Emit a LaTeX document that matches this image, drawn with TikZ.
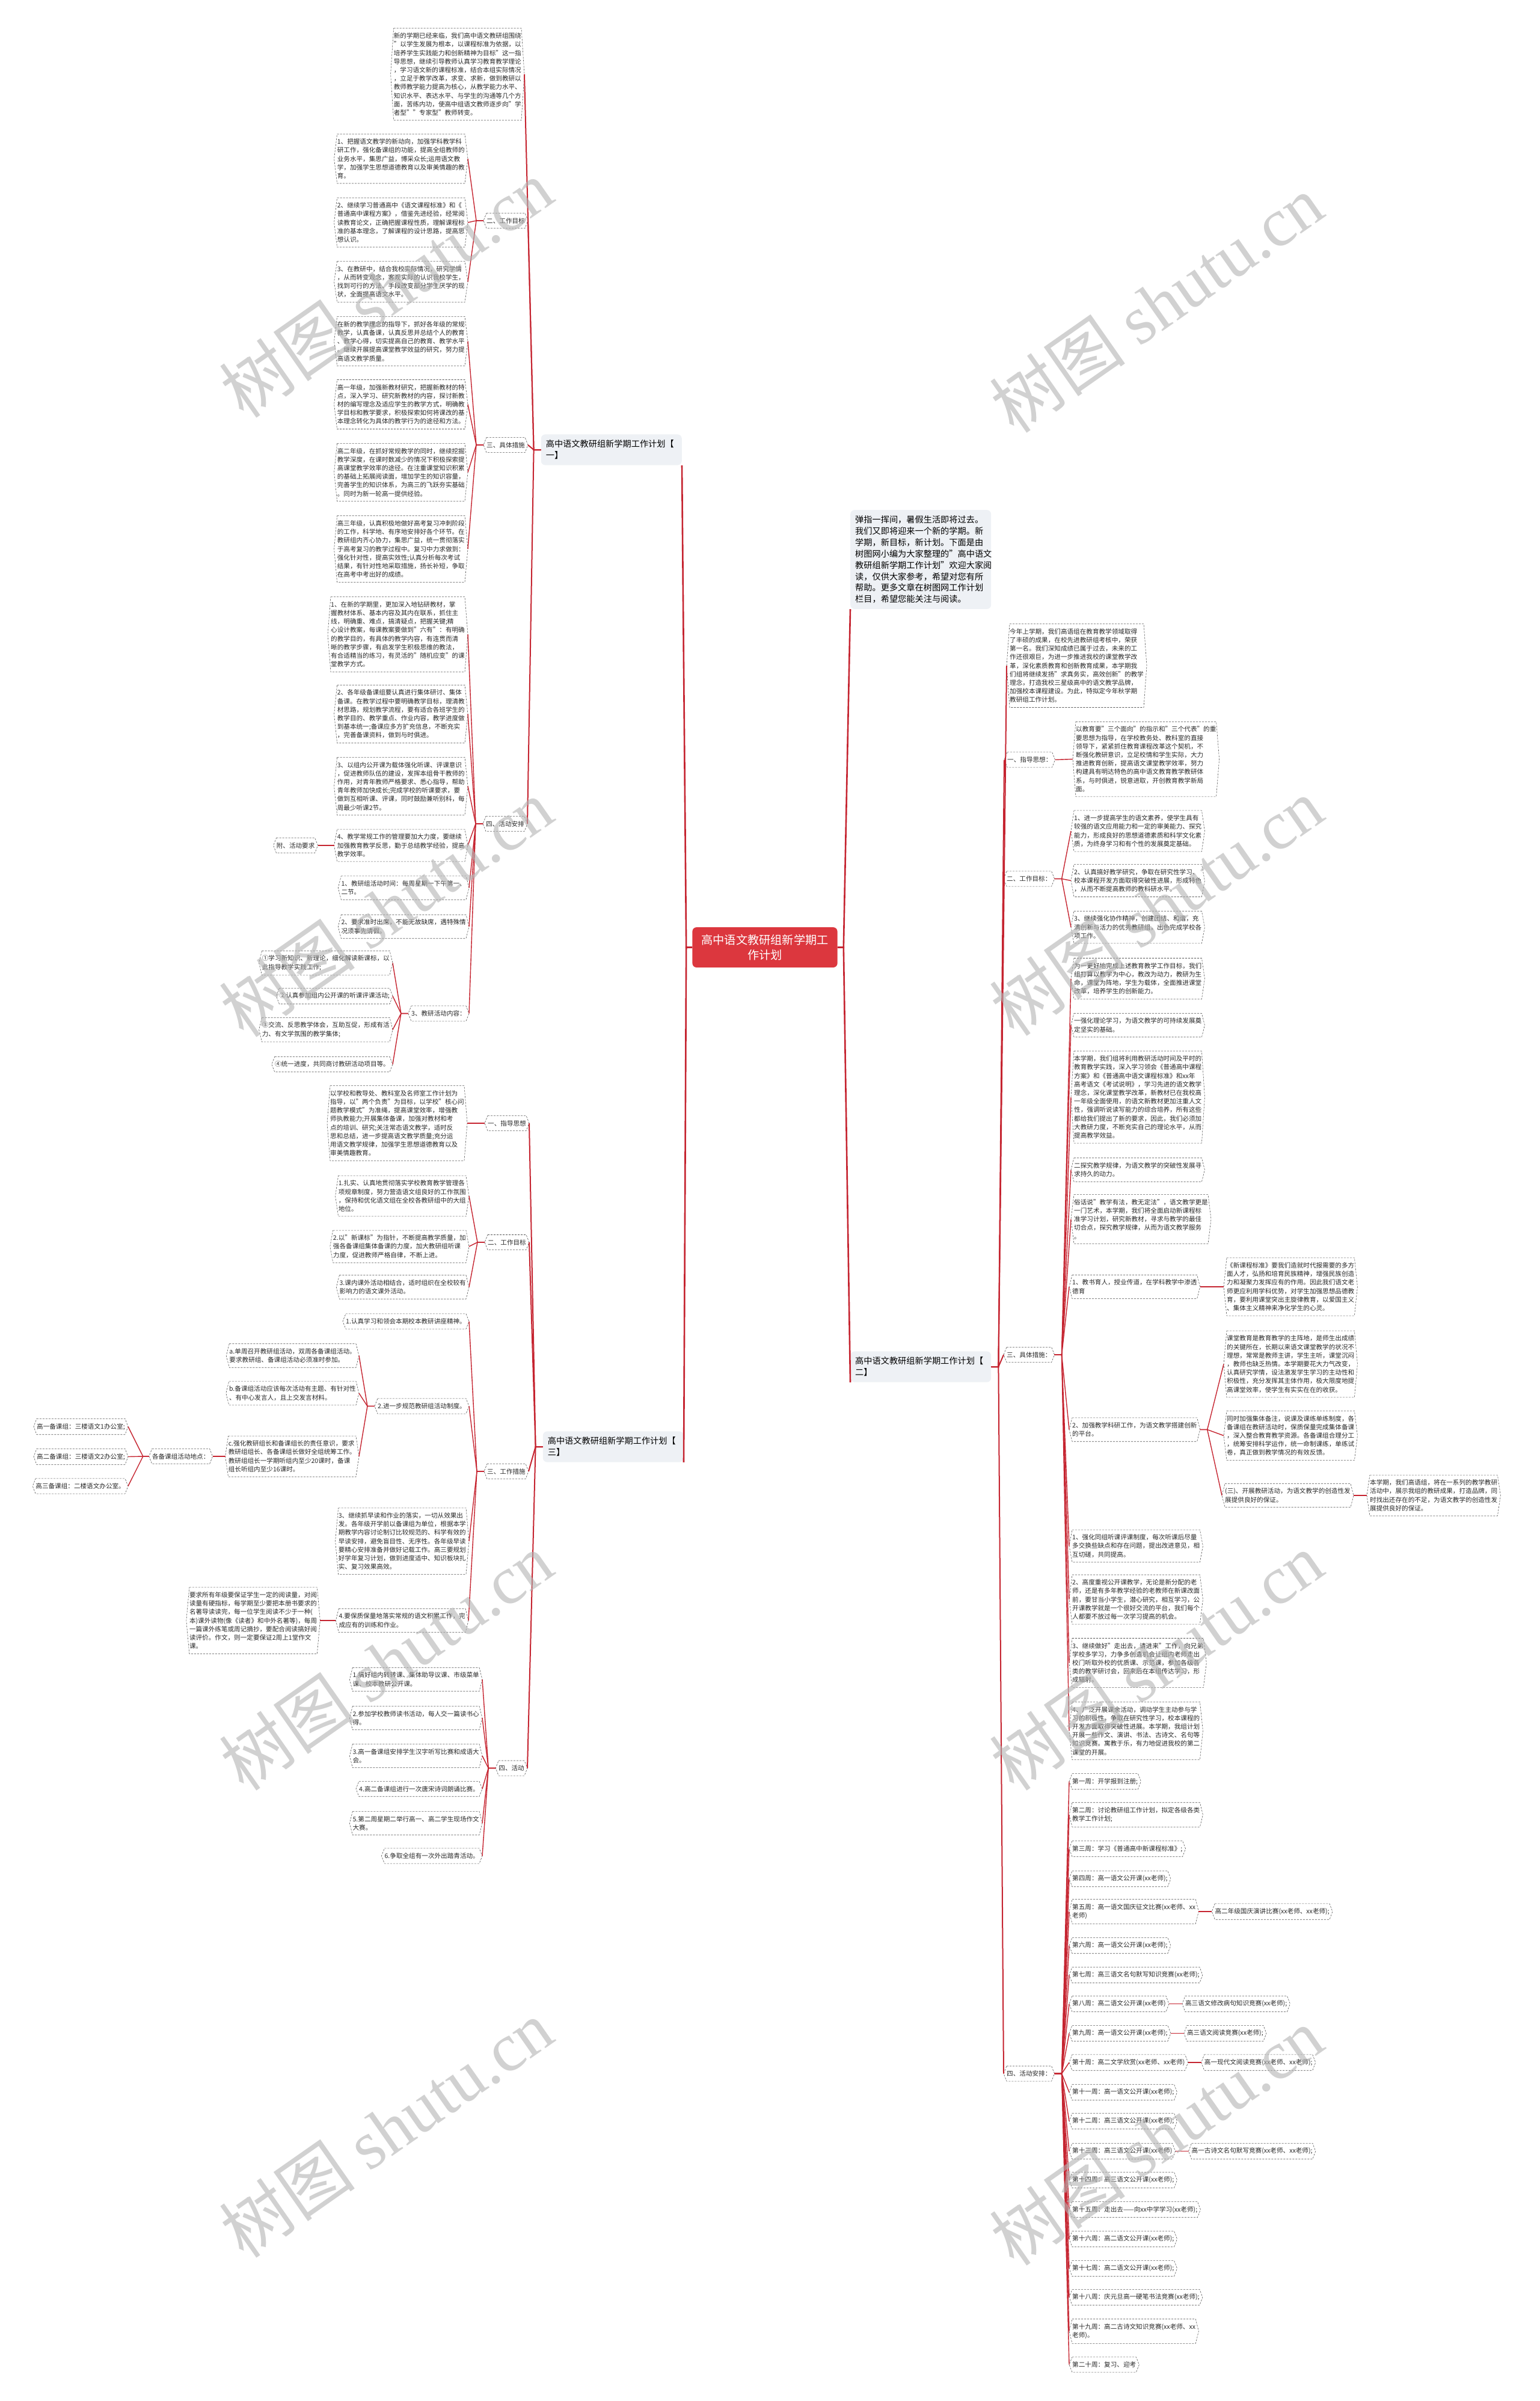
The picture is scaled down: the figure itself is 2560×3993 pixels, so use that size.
\documentclass[tikz,border=0pt]{standalone}
\usepackage{fontspec}
\setmainfont{Noto Sans CJK SC}
\newfontfamily\wmserif{Liberation Serif}
\usetikzlibrary{positioning}

\definecolor{linkred}{RGB}{197,36,48}
\definecolor{rootred}{RGB}{220,55,62}
\definecolor{titlefill}{RGB}{238,241,245}
\definecolor{leafline}{RGB}{85,85,85}
\definecolor{leaftext}{RGB}{40,40,40}

\tikzset{
  leaf/.style={anchor=east, inner xsep=5pt, inner ysep=7.5pt, align=left, text=leaftext,
    font=\fontsize{10.6}{14.2}\selectfont},
  rleaf/.style={leaf, anchor=west},
  hexline/.style={draw=leafline, densely dashed, line width=0.6pt},
  titlebox/.style={fill=titlefill, rounded corners=7pt, inner xsep=8pt, inner ysep=9.5pt,
    text width=218pt, align=left, font=\fontsize{14.2}{18.9}\selectfont},
  rootbox/.style={fill=rootred, text=white, rounded corners=7pt, inner xsep=15pt,
    inner ysep=12pt, align=center, font=\fontsize{19.2}{25}\selectfont},
  rootline/.style={draw=linkred, line width=2.6pt},
  mainline/.style={draw=linkred, line width=2pt},
  branchline/.style={draw=linkred, line width=1.4pt},
  wmark/.style={rotate=35, text=black!30, opacity=.6, font=\fontsize{114}{114}\selectfont},
}

\begin{document}
\begin{tikzpicture}[x=1pt,y=-1pt]
\useasboundingbox (0,0) rectangle (2560,3993);

% root
\node[rootbox] (root) at (1272,1575.5) {高中语文教研组新学期工\\作计划};

% ---- plan one (left, upper) ----
\node[titlebox, anchor=east] (t1) at (1134,748) {高中语文教研组新学期工作计划【\\一】};
\node[leaf] (p1) at (872,123.5) {新的学期已经来临，我们高中语文教研组围绕\\"以学生发展为根本，以课程标准为依据，以\\培养学生实践能力和创新精神为目标"这一指\\导思想，继续引导教师认真学习教育教学理论\\，学习语文新的课程标准，结合本组实际情况\\，立足于教学改革，求变、求新，做到教研以\\教师教学能力提高为核心，从教学能力水平、\\知识水平、表达水平、与学生的沟通等几个方\\面，苦练内功，使高中组语文教师逐步向"学\\者型""专家型"教师转变。};

\node[leaf] (g1lab) at (878,367) {二、工作目标};
\node[leaf] (g1a) at (778,264) {1、把握语文教学的新动向，加强学科教学科\\研工作，强化备课组的功能，提高全组教师的\\业务水平，集思广益，博采众长;运用语文教\\学，加强学生思想道德教育以及审美情趣的教\\育。};
\node[leaf] (g1b) at (778,370) {2、继续学习普通高中《语文课程标准》和《\\普通高中课程方案》，借鉴先进经验，经常阅\\读教育论文，正确把握课程性质，理解课程标\\准的基本理念，了解课程的设计思路，提高思\\想认识。};
\node[leaf] (g1c) at (778,468.5) {3、在教研中，结合我校实际情况，研究学情\\，从而转变观念，客观实际的认识我校学生，\\找到可行的方法、手段改变部分学生厌学的现\\状，全面提高语文水平。};

\node[leaf] (m1lab) at (878,740) {三、具体措施};
\node[leaf] (m1a) at (778,567.5) {在新的教学理念的指导下，抓好各年级的常规\\教学，认真备课，认真反思并总结个人的教育\\、教学心得，切实提高自己的教育、教学水平\\。继续开展提高课堂教学效益的研究，努力提\\高语文教学质量。};
\node[leaf] (m1b) at (778,672.5) {高一年级，加强新教材研究，把握新教材的特\\点，深入学习、研究新教材的内容，探讨新教\\材的编写理念及适应学生的教学方式，明确教\\学目标和教学要求，积极探索如何将课改的基\\本理念转化为具体的教学行为的途径和方法。};
\node[leaf] (m1c) at (778,785.5) {高二年级，在抓好常规教学的同时，继续挖掘\\教学深度，在课时数减少的情况下积极探索提\\高课堂教学效率的途径。在注重课堂知识积累\\的基础上拓展阅读面，增加学生的知识容量，\\完善学生的知识体系，为高三的飞跃夯实基础\\。同时为新一轮高一提供经验。};
\node[leaf] (m1d) at (778,913) {高三年级，认真积极地做好高考复习冲刺阶段\\的工作，科学地、有序地安排好各个环节。在\\教研组内齐心协力，集思广益，统一贯彻落实\\于高考复习的教学过程中。复习中力求做到：\\强化针对性，提高实效性;认真分析每次考试\\结果，有针对性地采取措施，扬长补短，争取\\在高考中考出好的成绩。};

\node[leaf] (s1lab) at (877,1370) {四、活动安排};
\node[leaf] (s1a) at (778,1055) {1、在新的学期里，更加深入地钻研教材，掌\\握教材体系、基本内容及其内在联系，抓住主\\线，明确重、难点，搞清疑点，把握关键;精\\心设计教案，每课教案要做到"六有"：有明确\\的教学目的，有具体的教学内容，有连贯而清\\晰的教学步骤，有启发学生积极思维的教法，\\有合适精当的练习，有灵活的"随机应变"的课\\堂教学方式。};
\node[leaf] (s1b) at (778,1187.5) {2、各年级备课组要认真进行集体研讨、集体\\备课。在教学过程中要明确教学目标，理清教\\材思路，规划教学流程，要有适合各班学生的\\教学目的、教学重点、作业内容，教学进度做\\到基本统一;备课应多方扩充信息，不断充实\\，完善备课资料，做到与时俱进。};
\node[leaf] (s1c) at (778,1307.5) {3、以组内公开课为载体强化听课、评课意识\\，促进教师队伍的建设，发挥本组骨干教师的\\作用，对青年教师严格要求、悉心指导，帮助\\青年教师加快成长;完成学校的听课要求，要\\做到互相听课、评课，同时鼓励兼听别科，每\\周最少听课2节。};
\node[leaf] (s1d) at (778,1406) {4、教学常规工作的管理要加大力度，要继续\\加强教育教学反思，勤于总结教学经验，提高\\教学效率。};
\node[leaf, left=27pt of s1d] (s1req) {附、活动要求};
\node[leaf] (s1e) at (780,1476.5) {1、教研组活动时间：每周星期一下午第一、\\二节。};
\node[leaf] (s1f) at (780,1541) {2、要求准时出席，不能无故缺席，遇特殊情\\况须事先请假。};
\node[leaf] (s1con) at (780,1685.5) {3、教研活动内容：};
\node[leaf] (s1con1) at (653,1601.5) {①学习新知识、新理论，细化解读新课标，以\\此指导教学实践工作;};
\node[leaf] (s1con2) at (653,1656.5) {②认真参加组内公开课的听课评课活动;};
\node[leaf] (s1con3) at (653,1712.5) {③交流、反思教学体会，互助互促，形成有活\\力、有文学氛围的教学集体;};
\node[leaf] (s1con4) at (653,1770) {④统一进度，共同商讨教研活动项目等。};

% ---- plan three (left, lower) ----
\node[titlebox, anchor=east] (t3) at (1137,2406) {高中语文教研组新学期工作计划【\\三】};
\node[leaf] (d3lab) at (880,1868) {一、指导思想};
\node[leaf] (d3a) at (777,1868) {以学校和教导处、教科室及名师室工作计划为\\指导，以"两个负责"为目标，以学校"核心问\\题教学模式"为准绳，提高课堂效率，增强教\\师执教能力;开展集体备课，加强对教材和考\\点的培训、研究;关注常态语文教学，适时反\\思和总结，进一步提高语文教学质量;充分运\\用语文教学规律，加强学生思想道德教育以及\\审美情趣教育。};

\node[leaf] (g3lab) at (880,2066) {二、工作目标};
\node[leaf] (g3a) at (780,1989) {1.扎实、认真地贯彻落实学校教育教学管理各\\项规章制度，努力营造语文组良好的工作氛围\\，保持和优化语文组在全校各教研组中的大组\\地位。};
\node[leaf] (g3b) at (780,2073) {2.以"新课标"为指针，不断提高教学质量，加\\强各备课组集体备课的力度，加大教研组听课\\力度，促进教师严格自律，不断上进。};
\node[leaf] (g3c) at (780,2140.5) {3.课内课外活动相结合，适时组织在全校较有\\影响力的语文课外活动。};

\node[leaf] (m3lab) at (879,2447) {三、工作措施};
\node[leaf] (m3a) at (780,2197.5) {1.认真学习和领会本期校本教研讲座精神。};
\node[leaf] (m3b) at (780,2338.5) {2.进一步规范教研组活动制度。};
\node[leaf] (m3b1) at (597,2254.5) {a.单周召开教研组活动，双周各备课组活动。\\要求教研组、备课组活动必须准时参加。};
\node[leaf] (m3b2) at (597,2317) {b.备课组活动应该每次活动有主题、有针对性\\、有中心发言人，且上交发言材料。};
\node[leaf] (m3b3) at (597,2422) {c.强化教研组长和备课组长的责任意识，要求\\教研组组长、各备课组长做好全组统筹工作。\\教研组组长一学期听组内至少20课时，备课\\组长听组内至少16课时。};
\node[leaf, left=21pt of m3b3] (m3place) {各备课组活动地点：};
\node[leaf] (m3place1) at (213,2372.5) {高一备课组：三楼语文1办公室;};
\node[leaf] (m3place2) at (213,2422.5) {高二备课组：三楼语文2办公室;};
\node[leaf] (m3place3) at (213,2471.5) {高三备课组：二楼语文办公室。};
\node[leaf] (m3c) at (780,2563) {3、继续抓早读和作业的落实，一切从效果出\\发。各年级开学前以备课组为单位，根据本学\\期教学内容讨论制订比较规范的、科学有效的\\早读安排，避免盲目性、无序性。各年级早读\\要精心安排准备并做好记载工作。高三要规划\\好学年复习计划，做到进度适中、知识板块扎\\实、复习效果高效。};
\node[leaf] (m3d) at (779,2695) {4.要保质保量地落实常规的语文积累工作，完\\成应有的训练和作业。};
\node[leaf, left=26pt of m3d] (m3d1) {要求所有年级要保证学生一定的阅读量，对阅\\读量有硬指标，每学期至少要把本册书要求的\\名著导读读完，每一位学生阅读不少于一种(\\本)课外读物(像《读者》和中外名著等)，每周\\一篇课外练笔或周记摘抄，要配合阅读搞好阅\\读评价。作文，则一定要保证2周上1堂作文\\课。};

\node[leaf] (v3lab) at (877,2940.5) {四、活动};
\node[leaf] (v3a) at (802,2793) {1.搞好组内转转课、集体助导议课、市级菜单\\课、校本教研公开课。};
\node[leaf] (v3b) at (802,2857) {2.参加学校教师读书活动，每人交一篇读书心\\得。};
\node[leaf] (v3c) at (802,2920) {3.高一备课组安排学生汉字听写比赛和成语大\\会。};
\node[leaf] (v3d) at (802,2975) {4.高二备课组进行一次唐宋诗词朗诵比赛。};
\node[leaf] (v3e) at (802,3032) {5.第二周星期二举行高一、高二学生现场作文\\大赛。};
\node[leaf] (v3f) at (802,3086.5) {6.争取全组有一次外出踏青活动。};

% ---- right side: intro and plan two ----
\node[titlebox, anchor=west] (p2) at (1414,930.5) {弹指一挥间，暑假生活即将过去。\\我们又即将迎来一个新的学期。新\\学期，新目标，新计划。下面是由\\树图网小编为大家整理的"高中语文\\教研组新学期工作计划"欢迎大家阅\\读，仅供大家参考，希望对您有所\\帮助。更多文章在树图网工作计划\\栏目，希望您能关注与阅读。};
\node[titlebox, anchor=west] (t2) at (1414,2273) {高中语文教研组新学期工作计划【\\二】};

\node[rleaf] (q2) at (1674,1107) {今年上学期，我们高语组在教育教学领域取得\\了丰硕的成果，在校先进教研组考核中，荣获\\第一名。我们深知成绩已属于过去，未来的工\\作还很艰巨，为进一步推进我校的课堂教学改\\革，深化素质教育和创新教育成果，本学期我\\们组将继续发扬"求真务实，高效创新"的教学\\理念，打造我校三星级高中的语文教学品牌，\\加强校本课程建设。为此，特拟定今年秋学期\\教研组工作计划。};

\node[rleaf] (d2lab) at (1670,1263.5) {一、指导思想：};
\node[rleaf] (d2a) at (1784,1262.5) {以教育要"三个面向"的指示和"三个代表"的重\\要思想为指导，在学校教务处、教科室的直接\\领导下，紧紧抓住教育课程改革这个契机，不\\断强化教研意识，立足校情和学生实际，大力\\推进教育创新，提高语文课堂教学效率，努力\\构建具有明达特色的高中语文教育教学教研体\\系，与时俱进，锐意进取，开创教育教学新局\\面。};

\node[rleaf] (g2lab) at (1669,1461.5) {二、工作目标：};
\node[rleaf] (g2a) at (1781,1382) {1、进一步提高学生的语文素养，使学生具有\\较强的语文应用能力和一定的审美能力、探究\\能力，形成良好的思想道德素质和科学文化素\\质，为终身学习和有个性的发展奠定基础。};
\node[rleaf] (g2b) at (1781,1464.5) {2、认真搞好教学研究，争取在研究性学习、\\校本课程开发方面取得突破性进展，形成特色\\，从而不断提高教师的教科研水平。};
\node[rleaf] (g2c) at (1781,1542) {3、继续强化协作精神，创建团结、和谐，充\\满创新与活力的优秀教研组，出色完成学校各\\项工作。};

\node[rleaf] (m2lab) at (1669,2253) {三、具体措施：};
\node[rleaf] (m2a) at (1781,1627.5) {为一更好地完成上述教育教学工作目标，我们\\组打算以教学为中心，教改为动力，教研为生\\命，课堂为阵地，学生为载体，全面推进课堂\\改革，培养学生的创新能力。};
\node[rleaf] (m2b) at (1781,1705) {一强化理论学习，为语文教学的可持续发展奠\\定坚实的基础。};
\node[rleaf] (m2c) at (1781,1824.5) {本学期，我们组将利用教研活动时间及平时的\\教育教学实践，深入学习领会《普通高中课程\\方案》和《普通高中语文课程标准》和xx年\\高考语文《考试说明》，学习先进的语文教学\\理念，深化课堂教学改革，新教材已在我校高\\一年级全面使用，的语文新教材更加注重人文\\性，强调听说读写能力的综合培养，所有这些\\都给我们提出了新的要求，因此，我们必须加\\大教研力度，不断充实自己的理论水平，从而\\提高教学效益。};
\node[rleaf] (m2d) at (1781,1945.5) {二探究教学规律，为语文教学的突破性发展寻\\求持久的动力。};
\node[rleaf] (m2e) at (1781,2027.5) {俗话说"教学有法，教无定法"，语文教学更是\\一门艺术，本学期，我们将全面启动新课程标\\准学习计划，研究新教材，寻求与教学的最佳\\切合点，探究教学规律，从而为语文教学服务\\。};
\node[rleaf] (m2f) at (1778,2140) {1、教书育人，授业传道，在学科教学中渗透\\德育};
\node[rleaf] (m2f1) at (2035,2140) {《新课程标准》要我们造就时代报需要的多方\\面人才，弘扬和培育民族精神，增强民族创造\\力和凝聚力发挥应有的作用。因此我们语文老\\师更应利用学科优势，对学生加强思想品德教\\育，要利用课堂突出主旋律教育，以爱国主义\\、集体主义精神来净化学生的心灵。};
\node[rleaf] (m2g) at (1778,2377.5) {2、加强教学科研工作，为语文教学搭建创新\\的平台。};
\node[rleaf] (m2g1) at (2035,2268.5) {课堂教育是教育教学的主阵地，是师生出成绩\\的关键所在，长期以来语文课堂教学的状况不\\理想，常常是教师主讲，学生主听，课堂沉闷\\，教师也缺乏热情。本学期要花大力气改变，\\认真研究学情，设法激发学生学习的主动性和\\积极性，充分发挥其主体作用，极大限度地提\\高课堂效率，使学生有实实在在的收获。};
\node[rleaf] (m2g2) at (2035,2387.5) {同时加强集体备注，说课及课练单练制度，各\\备课组在教研活动时，保质保量完成集体备课\\，深入整合教育教学资源。各备课组合理分工\\，统筹安排科学运作，统一命制课练，单练试\\卷，真正做到教学情况的有效反馈。};
\node[rleaf] (m2g3) at (2032,2487) {(三)、开展教研活动，为语文教学的创造性发\\展提供良好的保证。};
\node[rleaf, right=22pt of m2g3] (m2g3a) {本学期，我们高语组，将在一系列的教学教研\\活动中，展示我组的教研成果，打造品牌，同\\时找出还存在的不足，为语文教学的创造性发\\展提供良好的保证。};
\node[rleaf] (m2h) at (1778,2571) {1、强化同组听课评课制度，每次听课后尽量\\多交换些缺点和存在问题，提出改进意见，相\\互切磋，共同提高。};
\node[rleaf] (m2i) at (1778,2660) {2、高度重视公开课教学，无论是新分配的老\\师，还是有多年教学经验的老教师在新课改面\\前，要甘当小学生，潜心研究，相互学习，公\\开课教学就是一个很好交流的平台，我们每个\\人都要不放过每一次学习提高的机会。};
\node[rleaf] (m2j) at (1778,2765.5) {3、继续做好"走出去，请进来"工作，向兄弟\\学校多学习，力争多创造机会让组内老师走出\\校门听取外校的优质课、示范课，参加各级各\\类的教学研讨会，回来后在本组传达学习，形\\成辐射。};
\node[rleaf] (m2k) at (1778,2878.5) {4、广泛开展课余活动，调动学生主动参与学\\习的积极性，争取在研究性学习，校本课程的\\开发方面取得突破性进展。本学期，我组计划\\开展一些作文、演讲、书法、古诗文、名句等\\知识竞赛。寓教于乐，有力地促进我校的第二\\课堂的开展。};

\node[rleaf] (w2lab) at (1669,3448.5) {四、活动安排：};
\node[rleaf] (wk1) at (1778,2962.5) {第一周：开学报到注册;};
\node[rleaf] (wk2) at (1778,3018) {第二周：讨论教研组工作计划，拟定各级各类\\教学工作计划;};
\node[rleaf] (wk3) at (1778,3074.5) {第三周：学习《普通高中新课程标准》;};
\node[rleaf] (wk4) at (1778,3124.5) {第四周：高一语文公开课(xx老师);};
\node[rleaf] (wk5) at (1778,3179) {第五周：高一语文国庆征文比赛(xx老师、xx\\老师)};
\node[rleaf, right=22pt of wk5] (wk5x) {高二年级国庆演讲比赛(xx老师、xx老师);};
\node[rleaf] (wk6) at (1778,3235.5) {第六周：高一语文公开课(xx老师);};
\node[rleaf] (wk7) at (1778,3284.5) {第七周：高三语文名句默写知识竞赛(xx老师);};
\node[rleaf] (wk8) at (1778,3332.5) {第八周：高二语文公开课(xx老师)};
\node[rleaf, right=22pt of wk8] (wk8x) {高三语文修改病句知识竞赛(xx老师);};
\node[rleaf] (wk9) at (1778,3381.5) {第九周：高一语文公开课(xx老师);};
\node[rleaf, right=22pt of wk9] (wk9x) {高三语文阅读竞赛(xx老师);};
\node[rleaf] (wk10) at (1778,3430) {第十周：高二文学欣赏(xx老师、xx老师)};
\node[rleaf, right=22pt of wk10] (wk10x) {高一现代文阅读竞赛(xx老师、xx老师);};
\node[rleaf] (wk11) at (1778,3479.5) {第十一周：高一语文公开课(xx老师);};
\node[rleaf] (wk12) at (1778,3527.5) {第十二周：高三语文公开课(xx老师);};
\node[rleaf] (wk13) at (1778,3577.5) {第十三周：高三语文公开课(xx老师)};
\node[rleaf, right=22pt of wk13] (wk13x) {高一古诗文名句默写竞赛(xx老师、xx老师);};
\node[rleaf] (wk14) at (1778,3625.5) {第十四周：高三语文公开课(xx老师);};
\node[rleaf] (wk15) at (1778,3674.5) {第十五周：走出去——向xx中学学习(xx老师);};
\node[rleaf] (wk16) at (1778,3723.5) {第十六周：高二语文公开课(xx老师);};
\node[rleaf] (wk17) at (1778,3772.5) {第十七周：高二语文公开课(xx老师);};
\node[rleaf] (wk18) at (1778,3820.5) {第十八周：庆元旦高一硬笔书法竞赛(xx老师);};
\node[rleaf] (wk19) at (1778,3877) {第十九周：高二古诗文知识竞赛(xx老师、xx\\老师)。};
\node[rleaf] (wk20) at (1778,3932.5) {第二十周：复习、迎考};

% dashed hexagon outlines
\foreach \n in {p1,g1lab,g1a,g1b,g1c,m1lab,m1a,m1b,m1c,m1d,s1lab,s1a,s1b,s1c,s1d,s1req,s1e,s1f,
    s1con,s1con1,s1con2,s1con3,s1con4,d3lab,d3a,g3lab,g3a,g3b,g3c,m3lab,m3a,m3b,m3b1,m3b2,m3b3,
    m3place,m3place1,m3place2,m3place3,m3c,m3d,m3d1,v3lab,v3a,v3b,v3c,v3d,v3e,v3f,
    q2,d2lab,d2a,g2lab,g2a,g2b,g2c,m2lab,m2a,m2b,m2c,m2d,m2e,m2f,m2f1,m2g,m2g1,m2g2,m2g3,m2g3a,
    m2h,m2i,m2j,m2k,w2lab,wk1,wk2,wk3,wk4,wk5,wk5x,wk6,wk7,wk8,wk8x,wk9,wk9x,wk10,wk10x,
    wk11,wk12,wk13,wk13x,wk14,wk15,wk16,wk17,wk18,wk19,wk20}
  \draw[hexline] ([xshift=5pt]\n.north west) -- ([xshift=-5pt]\n.north east) -- (\n.east)
    -- ([xshift=-5pt]\n.south east) -- ([xshift=5pt]\n.south west) -- (\n.west) -- cycle;

% connectors from the root
\draw[rootline] (root.west) -- ++(-10,0) -- (t1.south east);
\draw[rootline] (root.west) -- ++(-10,0) -- (t3.south east);
\draw[rootline] (root.east) -- ++(10,0) -- (p2.south west);
\draw[rootline] (root.east) -- ++(10,0) -- (t2.south west);

% plan one
\foreach \c in {p1,g1lab,m1lab,s1lab} \draw[mainline] (t1.west) -- ++(-12,0) -- (\c.east);
\foreach \c in {g1a,g1b,g1c} \draw[branchline] (g1lab.west) -- ++(-12,0) -- (\c.east);
\foreach \c in {m1a,m1b,m1c,m1d} \draw[branchline] (m1lab.west) -- ++(-12,0) -- (\c.east);
\foreach \c in {s1a,s1b,s1c,s1d,s1e,s1f,s1con} \draw[branchline] (s1lab.west) -- ++(-12,0) -- (\c.east);
\draw[branchline] (s1d.west) -- (s1req.east);
\foreach \c in {s1con1,s1con2,s1con3,s1con4} \draw[branchline] (s1con.west) -- ++(-12,0) -- (\c.east);

% plan three
\foreach \c in {d3lab,g3lab,m3lab,v3lab} \draw[mainline] (t3.west) -- ++(-12,0) -- (\c.east);
\draw[branchline] (d3lab.west) -- (d3a.east);
\foreach \c in {g3a,g3b,g3c} \draw[branchline] (g3lab.west) -- ++(-12,0) -- (\c.east);
\foreach \c in {m3a,m3b,m3c,m3d} \draw[branchline] (m3lab.west) -- ++(-12,0) -- (\c.east);
\foreach \c in {m3b1,m3b2,m3b3} \draw[branchline] (m3b.west) -- ++(-12,0) -- (\c.east);
\draw[branchline] (m3b3.west) -- (m3place.east);
\foreach \c in {m3place1,m3place2,m3place3} \draw[branchline] (m3place.west) -- ++(-10,0) -- (\c.east);
\draw[branchline] (m3d.west) -- (m3d1.east);
\foreach \c in {v3a,v3b,v3c,v3d,v3e,v3f} \draw[branchline] (v3lab.west) -- ++(-12,0) -- (\c.east);

% plan two
\foreach \c in {q2,d2lab,g2lab,m2lab,w2lab} \draw[mainline] (t2.east) -- ++(12,0) -- (\c.west);
\draw[branchline] (d2lab.east) -- (d2a.west);
\foreach \c in {g2a,g2b,g2c} \draw[branchline] (g2lab.east) -- ++(12,0) -- (\c.west);
\foreach \c in {m2a,m2b,m2c,m2d,m2e,m2f,m2g,m2h,m2i,m2j,m2k} \draw[branchline] (m2lab.east) -- ++(12,0) -- (\c.west);
\draw[branchline] (m2f.east) -- (m2f1.west);
\foreach \c in {m2g1,m2g2,m2g3} \draw[branchline] (m2g.east) -- ++(12,0) -- (\c.west);
\draw[branchline] (m2g3.east) -- (m2g3a.west);
\foreach \i in {1,...,20} \draw[branchline] (w2lab.east) -- ++(12,0) -- (wk\i.west);
\foreach \i in {5,8,9,10,13} \draw[branchline] (wk\i.east) -- (wk\i x.west);

% watermarks
\foreach \px/\py [count=\i] in {642/480,1923/505,642/1510,1923/1508,642/2763,1923/2763,642/3540,1923/3553}
  \node[wmark] (wm\i) at (\px,\py) {树图 {\wmserif shutu.cn}};

\end{tikzpicture}
\end{document}
